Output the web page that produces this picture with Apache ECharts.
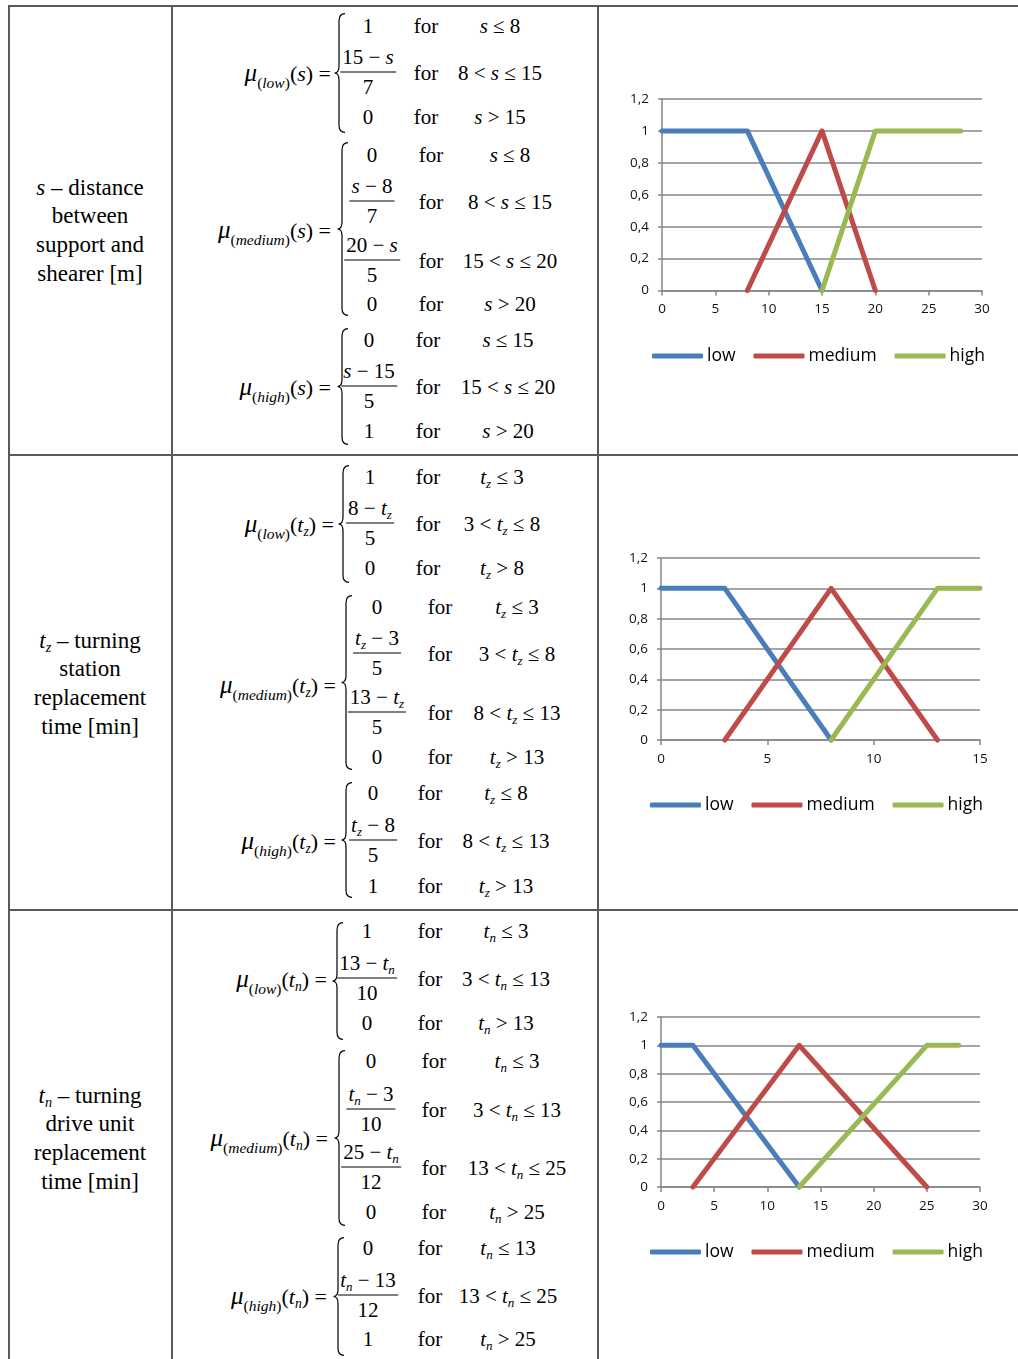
<!DOCTYPE html>
<html><head><meta charset="utf-8">
<script src="https://cdn.jsdelivr.net/npm/echarts@6/dist/echarts.min.js"></script>
<style>
html,body{margin:0;padding:0;background:#fff;}
#page{position:relative;width:1018px;height:1359px;overflow:hidden;font-family:"Liberation Serif","Times New Roman",serif;color:#000;}
.ln{position:absolute;background:#5a5a5a;}
.t{position:absolute;white-space:nowrap;font-size:21px;line-height:24px;}
.sb{font-size:0.62em;position:relative;top:0.32em;line-height:0;}
.lab{position:absolute;white-space:nowrap;font-size:22px;line-height:24px;transform:translate(-100%,-50%);}
.lab .mu{font-size:25px;font-style:italic;}
.lab .ls{font-size:15.5px;position:relative;top:0.42em;line-height:0;}
.fr{position:absolute;transform:translate(-50%,-50%);text-align:center;font-size:21px;white-space:nowrap;}
.fr .n{line-height:29px;border-bottom:1.2px solid #000;padding:0 2px;}
.fr .d{line-height:29px;}
.left{position:absolute;left:8px;width:164px;text-align:center;font-size:23px;line-height:28.8px;}
#chart{position:absolute;left:0;top:0;width:1018px;height:1359px;z-index:2;}
</style></head>
<body><div id="page"><div id="chart"></div></div>
<script>
// ---------- chart data ----------
const xTicks1 = [0, 5, 10, 15, 20, 25, 30];
const xTicks2 = [0, 5, 10, 15];
const xTicks3 = [0, 5, 10, 15, 20, 25, 30];
const yTicks = ['0', '0,2', '0,4', '0,6', '0,8', '1', '1,2'];
const seriesNames = ['low', 'medium', 'high'];
// chart 1: s - distance between support and shearer
const lowS = [[0, 1], [8, 1], [15, 0]];
const mediumS = [[8, 0], [15, 1], [20, 0]];
const highS = [[15, 0], [20, 1], [28, 1]];
// chart 2: tz - turning station replacement time
const lowTz = [[0, 1], [3, 1], [8, 0]];
const mediumTz = [[3, 0], [8, 1], [13, 0]];
const highTz = [[8, 0], [13, 1], [15, 1]];
// chart 3: tn - turning drive unit replacement time
const lowTn = [[0, 1], [3, 1], [13, 0]];
const mediumTn = [[3, 0], [13, 1], [25, 0]];
const highTn = [[13, 0], [25, 1], [28, 1]];

// ---------- table & formulas ----------
const page = document.getElementById('page');
function add(cls, html, style) {
  const d = document.createElement('div');
  d.className = cls; d.innerHTML = html || '';
  Object.assign(d.style, style || {});
  page.appendChild(d); return d;
}
// table lines
[[8,5,1010,2],[8,5,2,1354],[171,5,2,1354],[597,5,1.6,1354],[8,454,1010,2],[8,909,1010,2]].forEach(r=>{
  add('ln','',{left:r[0]+'px',top:r[1]+'px',width:r[2]+'px',height:r[3]+'px'});
});
// left column
add('left','<i>s</i> – distance<br>between<br>support and<br>shearer [m]',{top:'173.5px'});
add('left','<i>t</i><span class="sb"><i>z</i></span> – turning<br>station<br>replacement<br>time [min]',{top:'626.5px'});
add('left','<i>t</i><span class="sb"><i>n</i></span> – turning<br>drive unit<br>replacement<br>time [min]',{top:'1081.5px'});

const S = '<i>s</i>';
const TZ = '<i>t</i><span class="sb"><i>z</i></span>';
const TN = '<i>t</i><span class="sb"><i>n</i></span>';
const blocks = [
  {sub:'low',a:S,lr:331,ly:73,bx:334,bt:13,bb:133,vx:368,fx:426,cx:500,rows:[
    {y:26,v:'1',c:S+' ≤ 8'},{y:73,n:'15 − '+S,d:'7',c:'8 &lt; '+S+' ≤ 15'},{y:117,v:'0',c:S+' &gt; 15'}]},
  {sub:'medium',a:S,lr:331,ly:230,bx:337,bt:142,bb:316,vx:372,fx:431,cx:510,rows:[
    {y:155,v:'0',c:S+' ≤ 8'},{y:202,n:S+' − 8',d:'7',c:'8 &lt; '+S+' ≤ 15'},
    {y:261,n:'20 − '+S,d:'5',c:'15 &lt; '+S+' ≤ 20'},{y:304,v:'0',c:S+' &gt; 20'}]},
  {sub:'high',a:S,lr:331,ly:387,bx:337,bt:328,bb:445,vx:369,fx:428,cx:508,rows:[
    {y:340,v:'0',c:S+' ≤ 15'},{y:387,n:S+' − 15',d:'5',c:'15 &lt; '+S+' ≤ 20'},{y:431,v:'1',c:S+' &gt; 20'}]},
  {sub:'low',a:TZ,lr:334,ly:524,bx:338,bt:465,bb:583,vx:370,fx:428,cx:502,rows:[
    {y:477,v:'1',c:TZ+' ≤ 3'},{y:524,n:'8 − '+TZ,d:'5',c:'3 &lt; '+TZ+' ≤ 8'},{y:568,v:'0',c:TZ+' &gt; 8'}]},
  {sub:'medium',a:TZ,lr:336,ly:685,bx:341,bt:595,bb:770,vx:377,fx:440,cx:517,rows:[
    {y:607,v:'0',c:TZ+' ≤ 3'},{y:654,n:TZ+' − 3',d:'5',c:'3 &lt; '+TZ+' ≤ 8'},
    {y:713,n:'13 − '+TZ,d:'5',c:'8 &lt; '+TZ+' ≤ 13'},{y:757,v:'0',c:TZ+' &gt; 13'}]},
  {sub:'high',a:TZ,lr:336,ly:841,bx:341,bt:782,bb:898,vx:373,fx:430,cx:506,rows:[
    {y:793,v:'0',c:TZ+' ≤ 8'},{y:841,n:TZ+' − 8',d:'5',c:'8 &lt; '+TZ+' ≤ 13'},{y:886,v:'1',c:TZ+' &gt; 13'}]},
  {sub:'low',a:TN,lr:327,ly:979,bx:332,bt:922,bb:1040,vx:367,fx:430,cx:506,rows:[
    {y:931,v:'1',c:TN+' ≤ 3'},{y:979,n:'13 − '+TN,d:'10',c:'3 &lt; '+TN+' ≤ 13'},{y:1023,v:'0',c:TN+' &gt; 13'}]},
  {sub:'medium',a:TN,lr:328,ly:1138,bx:334,bt:1050,bb:1226,vx:371,fx:434,cx:517,rows:[
    {y:1061,v:'0',c:TN+' ≤ 3'},{y:1110,n:TN+' − 3',d:'10',c:'3 &lt; '+TN+' ≤ 13'},
    {y:1168,n:'25 − '+TN,d:'12',c:'13 &lt; '+TN+' ≤ 25'},{y:1212,v:'0',c:TN+' &gt; 25'}]},
  {sub:'high',a:TN,lr:327,ly:1296,bx:333,bt:1237,bb:1356,vx:368,fx:430,cx:508,rows:[
    {y:1248,v:'0',c:TN+' ≤ 13'},{y:1296,n:TN+' − 13',d:'12',c:'13 &lt; '+TN+' ≤ 25'},{y:1339,v:'1',c:TN+' &gt; 25'}]}
];
function brace(x, t, b) {
  const h = b - t, m = h / 2;
  const svg = '<svg width="12" height="'+h+'" viewBox="0 0 12 '+h+'"><path d="M11,0.6 Q5,0.6 5,8 L5,'+(m-7)+' Q5,'+m+' 0.5,'+m+' Q5,'+m+' 5,'+(m+7)+' L5,'+(h-8)+' Q5,'+(h-0.6)+' 11,'+(h-0.6)+'" fill="none" stroke="#000" stroke-width="1.2"/></svg>';
  add('t', svg, {left:x+'px', top:t+'px', lineHeight:'0'});
}
blocks.forEach(bk => {
  add('lab','<span class="mu">μ</span><span class="ls">(<i>'+bk.sub+'</i>)</span>('+bk.a+') =',{left:bk.lr+'px',top:bk.ly+'px'});
  brace(bk.bx, bk.bt, bk.bb);
  bk.rows.forEach(r => {
    if (r.v !== undefined) {
      add('t', r.v, {left:bk.vx+'px', top:r.y+'px', transform:'translate(-50%,-50%)'});
    } else {
      add('fr', '<div class="n">'+r.n+'</div><div class="d">'+r.d+'</div>', {left:bk.vx+'px', top:(r.y-1)+'px'});
    }
    add('t', 'for', {left:bk.fx+'px', top:r.y+'px', transform:'translate(-50%,-50%)'});
    add('t', r.c, {left:bk.cx+'px', top:r.y+'px', transform:'translate(-50%,-50%)'});
  });
});

// ---------- charts ----------
const FONT = '"Open Sans", sans-serif';
const colors = ['#4A7EBB', '#BE4B48', '#98B954'];
const grids = [
  {left:662, top:99, width:320, height:191.5},
  {left:661, top:558, width:319, height:182},
  {left:661, top:1017, width:319, height:170}
];
const xTickSets = [xTicks1, xTicks2, xTicks3];
const dataSets = [[lowS, mediumS, highS], [lowTz, mediumTz, highTz], [lowTn, mediumTn, highTn]];
const legendPos = [{left:652, top:347}, {left:650, top:796}, {left:650, top:1243}];
const axisCol = '#868686';
const yMin = 0, yMax = 1.2, yStep = 0.2;

const option = {
  animation:false,
  grid: grids,
  xAxis: grids.map((g, i) => ({
    gridIndex:i, type:'value',
    min:xTickSets[i][0], max:xTickSets[i][xTickSets[i].length-1],
    interval:xTickSets[i][1]-xTickSets[i][0],
    axisLine:{show:true, onZero:false, lineStyle:{color:axisCol, width:1.5}},
    axisTick:{show:true, length:5, lineStyle:{color:axisCol, width:1.5}},
    axisLabel:{fontSize:13.5, color:'#111', margin:12, fontFamily:FONT},
    splitLine:{show:false}
  })),
  yAxis: grids.map((g, i) => ({
    gridIndex:i, type:'value', min:yMin, max:yMax, interval:yStep,
    axisLine:{show:true, lineStyle:{color:axisCol, width:1.5}},
    axisTick:{show:true, length:4, lineStyle:{color:axisCol, width:1.5}},
    axisLabel:{fontSize:13.5, color:'#111', margin:13, fontFamily:FONT,
      formatter: v => yTicks[Math.round((v - yMin) / yStep)]},
    splitLine:{show:true, lineStyle:{color:axisCol, width:1.5}}
  })),
  legend: legendPos.map(p => ({
    left:p.left, top:p.top, padding:0, data:seriesNames, icon:'roundRect',
    itemWidth:51, itemHeight:5, itemGap:18, selectedMode:false,
    textStyle:{fontSize:17.5, color:'#000', fontFamily:FONT, padding:[0,0,0,-1]}
  })),
  series: []
};
dataSets.forEach((set, i) => {
  set.forEach((d, k) => {
    option.series.push({
      type:'line', name:seriesNames[k], xAxisIndex:i, yAxisIndex:i, data:d,
      symbol:'none', clip:false, color:colors[k],
      itemStyle:{color:colors[k]},
      lineStyle:{width:5, color:colors[k], cap:'round', join:'round'}
    });
  });
});
const chart = echarts.init(document.getElementById('chart'), null, {renderer:'canvas'});
chart.setOption(option);
</script>
</body></html>
